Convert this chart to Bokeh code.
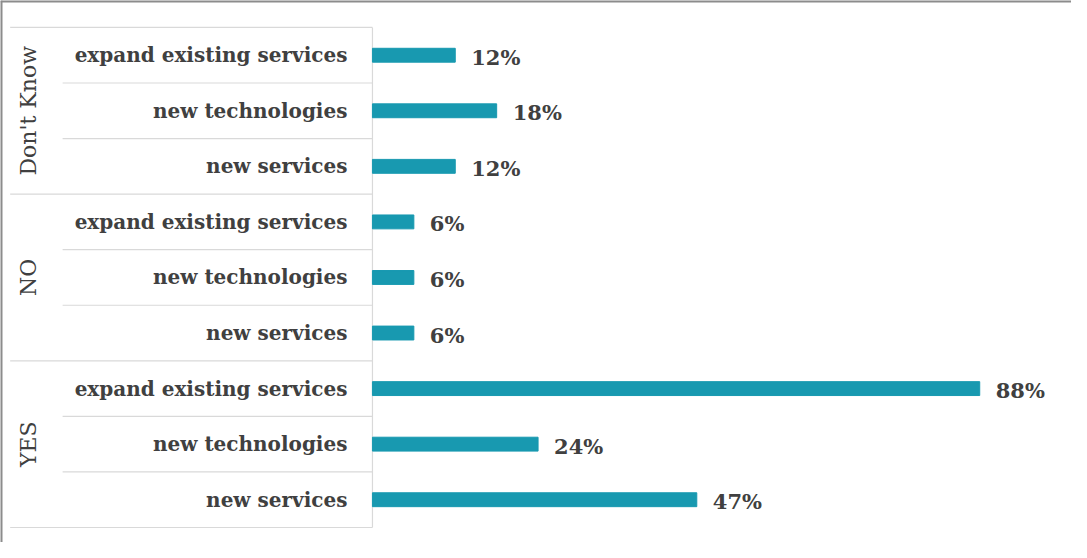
import math
from bokeh.plotting import figure
from bokeh.models import ColumnDataSource, Range1d, Span
from bokeh.embed import file_html
from bokeh.resources import INLINE
from bokeh.core.properties import value

# ---- data ----
groups = ["Don't Know", "NO", "YES"]
subcategories = ["expand existing services", "new technologies", "new services"]
dont_know = [12, 18, 12]
no = [6, 6, 6]
yes = [88, 24, 47]
series = [dont_know, no, yes]

# ---- build rows (top to bottom) ----
n_rows = len(groups) * len(subcategories)
row_y, row_sub, row_val, row_lbl = [], [], [], []
group_y, group_top = [], []
k = 0
for g, vals in zip(groups, series):
    ys = []
    for s, v in zip(subcategories, vals):
        y = n_rows - 1 - k
        row_y.append(y)
        row_sub.append(s)
        row_val.append(v)
        row_lbl.append(f"{v}%")
        ys.append(y)
        k += 1
    group_y.append(sum(ys) / len(ys))
    group_top.append(max(ys) + 0.5)

rows = ColumnDataSource(dict(y=row_y, sub=row_sub, val=row_val, lbl=row_lbl))

BAR = "#1899b0"
TXT = "#404040"
GRID = "#d9d9d9"
FONT = "DejaVu Serif"

x_start, x_end = -53.9, 101.3
y_start, y_end = -0.77, 8.985
p = figure(width=1071, height=542,
           x_range=Range1d(x_start, x_end), y_range=Range1d(y_start, y_end),
           toolbar_location=None, output_backend="svg", min_border=0)
p.axis.visible = False
p.grid.visible = False
p.outline_line_color = None
p.background_fill_color = "white"

# chart border (top and left only visible)
p.add_layout(Span(location=y_end, dimension="width", line_color="#8c8c8c", line_width=4))
p.add_layout(Span(location=x_start, dimension="height", line_color="#8c8c8c", line_width=4))

# separators
bottom = min(row_y) - 0.5
g_lines = group_top + [bottom]
p.segment(x0=[-52.5] * len(g_lines), x1=[0] * len(g_lines), y0=g_lines, y1=g_lines,
          line_color=GRID, line_width=1.2)
sub_lines = [y - 0.5 for y in row_y if (y - 0.5) not in g_lines and (y - 0.5) > bottom]
p.segment(x0=[-44.9] * len(sub_lines), x1=[0] * len(sub_lines), y0=sub_lines, y1=sub_lines,
          line_color=GRID, line_width=1.2)
p.segment(x0=[0], x1=[0], y0=[bottom], y1=[max(group_top)], line_color=GRID, line_width=1.2)

# bars
p.hbar(y="y", left=0, right="val", height=0.25, source=rows, color=BAR)

# category labels
p.text(x=0, y="y", text="sub", source=rows, x_offset=-25,
       text_align="right", text_baseline="middle",
       text_font=value(FONT), text_font_style="bold", text_font_size="20px", text_color=TXT)

# value labels
p.text(x="val", y="y", text="lbl", source=rows, x_offset=16, y_offset=2,
       text_align="left", text_baseline="middle",
       text_font=value(FONT), text_font_style="bold", text_font_size="21px", text_color=TXT)

# group labels
p.text(x=[x_start] * len(groups), y=group_y, text=groups, angle=math.pi / 2, x_offset=28,
       text_align="center", text_baseline="middle",
       text_font=value(FONT), text_font_size="22px", text_color=TXT)

open("out.html", "w").write(file_html(p, INLINE))
